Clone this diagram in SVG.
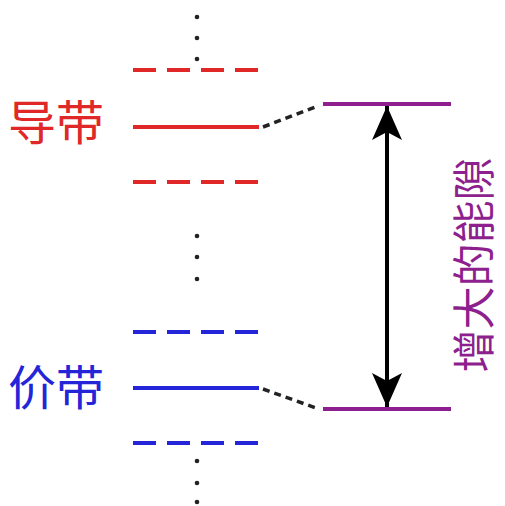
<svg xmlns="http://www.w3.org/2000/svg" width="505" height="506" viewBox="0 0 505 506">
<defs>
<style>
.red{stroke:#e02828;stroke-width:4;fill:none}
.blue{stroke:#2424d8;stroke-width:4;fill:none}
.dash{stroke-dasharray:23 11}
.purple{stroke:#8e1f8e;stroke-width:4;fill:none}
.dot{fill:#222}
.conn{stroke:#222;stroke-width:3.5;stroke-dasharray:7 5;fill:none}
.lbl{font-family:"Noto Sans CJK SC","Noto Sans",sans-serif;font-size:48px}
.vlbl{font-family:"Noto Sans CJK SC","Noto Sans",sans-serif;font-size:43px}
</style>
<marker id="ah" markerWidth="36" markerHeight="30" refX="34" refY="15" orient="auto" markerUnits="userSpaceOnUse">
<path d="M0,0 L34,15 L0,30 L8,15 Z" fill="#000"/>
</marker>
</defs>
<rect width="505" height="506" fill="#fff"/>
<g id="conduction-band">
<text class="lbl" x="8" y="140" fill="#e02828">导带</text>
<line class="red dash" x1="133" y1="70" x2="258" y2="70"/>
<line class="red" x1="133" y1="127" x2="259" y2="127"/>
<line class="red dash" x1="133" y1="182" x2="258" y2="182"/>
</g>
<g id="valence-band">
<text class="lbl" x="8" y="405" fill="#2424d8">价带</text>
<line class="blue dash" x1="133" y1="332" x2="258" y2="332"/>
<line class="blue" x1="133" y1="388" x2="259" y2="388"/>
<line class="blue dash" x1="133" y1="443" x2="258" y2="443"/>
</g>
<g id="dots">
<circle class="dot" cx="197" cy="17" r="2.3"/>
<circle class="dot" cx="197" cy="38" r="2.3"/>
<circle class="dot" cx="197" cy="59" r="2.3"/>
<circle class="dot" cx="197" cy="236" r="2.3"/>
<circle class="dot" cx="197" cy="257" r="2.3"/>
<circle class="dot" cx="197" cy="279" r="2.3"/>
<circle class="dot" cx="197" cy="461" r="2.3"/>
<circle class="dot" cx="197" cy="483" r="2.3"/>
<circle class="dot" cx="197" cy="502" r="2.3"/>
</g>
<g id="gap-levels">
<line class="purple" x1="323" y1="104" x2="451" y2="104"/>
<line class="purple" x1="323" y1="409" x2="451" y2="409"/>
</g>
<g id="gap-label">
<text class="vlbl" transform="translate(490,265) rotate(-90)" text-anchor="middle" fill="#8e1f8e">增大的能隙</text>
</g>
<g id="connectors">
<line class="conn" x1="263" y1="127" x2="318" y2="106"/>
<line class="conn" x1="263" y1="389" x2="316" y2="408"/>
<line x1="387" y1="250" x2="387" y2="106" stroke="#000" stroke-width="4" marker-end="url(#ah)"/>
<line x1="387" y1="250" x2="387" y2="407" stroke="#000" stroke-width="4" marker-end="url(#ah)"/>
</g>
</svg>
